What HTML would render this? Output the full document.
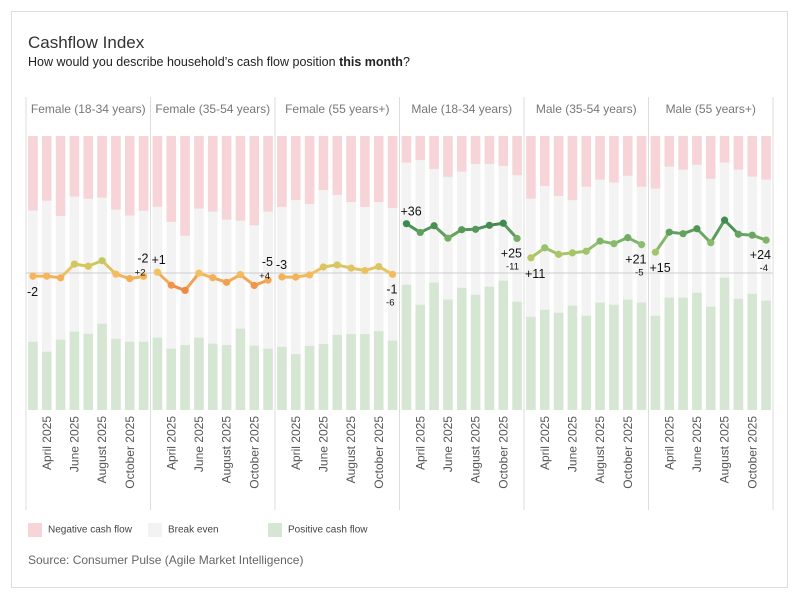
<!DOCTYPE html>
<html><head><meta charset="utf-8"><style>
body{margin:0;background:#fff;font-family:"Liberation Sans",sans-serif;}
#card{position:absolute;left:11px;top:11px;width:777px;height:577px;border:1px solid #ddd;box-sizing:border-box;}
.t{position:absolute;white-space:nowrap;}
</style></head><body>
<div id="card"></div>
<div class="t" style="left:28px;top:33px;font-size:17px;color:#333;">Cashflow Index</div>
<div class="t" style="left:28px;top:55px;font-size:12.5px;color:#222;">How would you describe household’s cash flow position <b>this month</b>?</div>
<svg id="chart" width="800" height="600" style="position:absolute;left:0;top:0;font-family:'Liberation Sans',sans-serif"></svg>
<div class="t" style="left:28px;top:523px;font-size:10px;color:#444;"><span style="display:inline-block;width:14px;height:14px;background:#f7d4d8;vertical-align:middle;margin-right:6px"></span>Negative cash flow</div>
<div class="t" style="left:148px;top:523px;font-size:10px;color:#444;"><span style="display:inline-block;width:14px;height:14px;background:#f3f3f3;vertical-align:middle;margin-right:6px"></span>Break even</div>
<div class="t" style="left:268px;top:523px;font-size:10px;color:#444;"><span style="display:inline-block;width:14px;height:14px;background:#d5e6d3;vertical-align:middle;margin-right:6px"></span>Positive cash flow</div>
<div class="t" style="left:28px;top:553px;font-size:12px;color:#666;">Source: Consumer Pulse (Agile Market Intelligence)</div>
<script>
const panels=["Female (18-34 years)","Female (35-54 years)","Female (55 years+)","Male (18-34 years)","Male (35-54 years)","Male (55 years+)"];
const months=["March 2025","April 2025","May 2025","June 2025","July 2025","August 2025","September 2025","October 2025","November 2025"];
const negF1=[27.2,23.6,29.2,22.1,22.9,22.5,26.9,29.0,27.3];
const posF1=[24.9,21.3,25.7,28.6,27.8,31.5,26.0,24.9,24.9];
const negF2=[25.8,31.3,36.4,26.5,27.6,30.5,30.9,32.6,27.6];
const posF2=[26.4,22.4,23.7,26.4,24.2,23.7,29.7,23.5,22.4];
const negF3=[25.9,23.4,24.8,19.7,21.5,24.1,25.9,24.1,26.3];
const posF3=[23.0,20.4,23.4,24.1,27.4,27.7,27.7,28.8,25.3];
const negM1=[9.7,8.8,12.0,14.9,13.0,10.2,10.2,10.9,14.3];
const posM1=[45.7,38.4,46.5,40.3,44.6,42.1,45.0,47.2,39.5];
const negM2=[22.9,18.2,21.9,23.4,18.5,15.9,17.0,14.5,18.5];
const posM2=[34.0,36.6,35.5,38.1,34.4,39.2,38.4,40.3,39.2];
const negM3=[19.2,11.2,12.3,10.5,15.6,9.7,12.3,14.8,15.9];
const posM3=[34.4,41.0,41.0,42.8,37.7,48.3,40.6,42.4,39.9];
const negAll=[negF1,negF2,negF3,negM1,negM2,negM3];
const posAll=[posF1,posF2,posF3,posM1,posM2,posM3];

const svg=document.getElementById('chart');const NS='http://www.w3.org/2000/svg';
function mk(t,a,p){const e=document.createElementNS(NS,t);for(const k in a)e.setAttribute(k,a[k]);(p||svg).appendChild(e);return e;}
const X0=26,PW=124.5,TOP=136,BOT=410,ZERO=(TOP+BOT)/2;
const band=PW/months.length;
function xb(p,i){return X0+p*PW+i*band+band/2;}
function hPct(v){return v*(BOT-TOP)/100;}
function yIdx(v){return ZERO-v*(BOT-TOP)/200;}
function fmt(v){return v>0?'+'+v:''+v;}
function lerp(a,b,t){return a+(b-a)*t;}
const stops=[[-12,[238,136,68]],[0,[245,192,96]],[8,[200,200,96]],[20,[143,192,112]],[36,[63,138,80]]];
function col(v){if(v<=stops[0][0])return 'rgb('+stops[0][1]+')';for(let i=1;i<stops.length;i++){if(v<=stops[i][0]){const t=(v-stops[i-1][0])/(stops[i][0]-stops[i-1][0]);const c=stops[i-1][1].map((a,j)=>Math.round(lerp(a,stops[i][1][j],t)));return 'rgb('+c+')';}}return 'rgb('+stops[stops.length-1][1]+')';}
const bw=band*0.69;
for(let p=0;p<panels.length;p++){
  const neg=negAll[p],pos=posAll[p];
  const sep=mk('line',{x1:X0+p*PW,x2:X0+p*PW,y1:97,y2:510,stroke:'#ddd','stroke-width':1});
  
  const h=mk('text',{x:X0+p*PW+PW/2,y:113,'text-anchor':'middle','font-size':12,fill:'#777'});h.textContent=panels[p];
  
  for(let i=0;i<months.length;i++){
    const x=xb(p,i)-bw/2;
    const g=mk('rect',{x:x,y:TOP,width:bw,height:BOT-TOP,fill:'#f3f3f3'});
    
    const r=mk('rect',{x:x,y:TOP,width:bw,height:hPct(neg[i]),fill:'#f7d4d8'});
    
    const gr=mk('rect',{x:x,y:BOT-hPct(pos[i]),width:bw,height:hPct(pos[i]),fill:'#d5e6d3'});
    
    if(i%2==1){const tx=xb(p,i)+4,ty=416;const t=mk('text',{x:tx,y:ty,'text-anchor':'end','font-size':12,fill:'#555',transform:'rotate(-90 '+tx+' '+ty+')'});t.textContent=months[i];
      }
  }
}
mk('line',{x1:X0,x2:X0+6*PW,y1:ZERO,y2:ZERO,stroke:'#ccc','stroke-width':1});
mk('line',{x1:X0+6*PW,x2:X0+6*PW,y1:97,y2:510,stroke:'#ddd','stroke-width':1});
for(let p=0;p<panels.length;p++){
  const neg=negAll[p],pos=posAll[p];const idx=pos.map((v,i)=>v-neg[i]);
  for(let i=1;i<idx.length;i++){const s=mk('line',{x1:xb(p,i-1),y1:yIdx(idx[i-1]),x2:xb(p,i),y2:yIdx(idx[i]),stroke:col((idx[i]+idx[i-1])/2),'stroke-width':3,'stroke-linecap':'round'});
    }
  for(let i=0;i<idx.length;i++){const c=mk('circle',{cx:xb(p,i),cy:yIdx(idx[i]),r:3.6,fill:col(idx[i])});
    }
  const r=idx.map(v=>Math.round(v));const n=r.length;
  const first=r[0],last=r[n-1],chg=r[n-1]-r[n-2];
  const fa=idx[0]>idx[1];
  const ft=mk('text',{x:X0+p*PW+1,y:yIdx(idx[0])+(fa?-8:20),'font-size':12.5,fill:'#111'});ft.textContent=fmt(first);
  
  const xe=X0+(p+1)*PW-2;const ye=yIdx(idx[n-1]);const up=chg>0;
  const lt=mk('text',{x:xe,y:up?ye-14:ye+19,'text-anchor':'end','font-size':12.5,fill:'#111'});lt.textContent=fmt(last);
  
  const ct=mk('text',{x:xe-3,y:up?ye-1:ye+31,'text-anchor':'end','font-size':9.5,fill:'#111'});ct.textContent=fmt(chg);
  
}
</script>
</body></html>
